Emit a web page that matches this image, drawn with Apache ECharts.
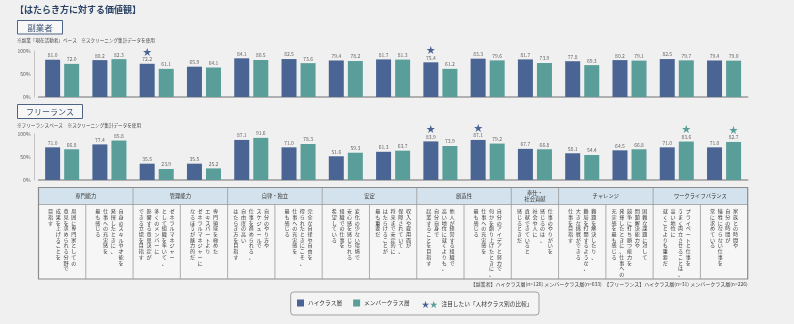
<!DOCTYPE html>
<html><head><meta charset="utf-8">
<script src="https://cdn.jsdelivr.net/npm/echarts@6/dist/echarts.min.js"></script>
<style>html,body{margin:0;padding:0;background:#f0f0f0;}#c{width:794px;height:324px;}</style>
</head><body><div id="c"></div>
<script>
// ---------- data ----------
const categories = ['専門能力A','専門能力B','管理能力A','管理能力B','自律・独立A','自律・独立B','安定A','安定B','創造性A','創造性B','奉仕・社会貢献','チャレンジA','チャレンジB','ワークライフバランスA','ワークライフバランスB'];
const fukuHigh   = [81.0,80.2,72.2,65.9,84.1,82.5,79.4,81.7,75.4,83.3,81.7,77.8,80.2,82.5,79.4];
const fukuMember = [72.0,82.3,61.1,64.1,80.5,73.6,78.2,81.3,61.2,79.6,73.9,69.3,79.1,79.7,79.0];
const freeHigh   = [71.0,77.4,35.5,35.5,87.1,71.0,51.6,61.3,83.9,87.1,67.7,58.1,64.5,71.0,71.0];
const freeMember = [66.8,85.8,23.9,25.2,91.6,78.3,59.3,63.7,73.9,79.2,66.8,54.4,66.8,83.6,82.7];
const fukuHighStar   = [2, 8];
const fukuMemberStar = [];
const freeHighStar   = [8, 9];
const freeMemberStar = [13, 14];
const yTicks = [0, 50, 100];
const groupHeaders = [['専門能力',2],['管理能力',2],['自律・独立',2],['安定',2],['創造性',2],['奉仕・\n社会貢献',1],['チャレンジ',2],['ワークライフバランス',2]];
const cellTexts = [
  ['周囲に専門家としての','意見を求められる分野で','成果を上げることを','目指す'],
  ['自身のスキルや才能を','発揮したときに、','仕事への充実感を','最も感じる'],
  ['ゼネラルマネジャー','として組織を率いて、','多くのメンバーに','影響する意思決定が','できる立場を目指す'],
  ['専門領域を極めた','エキスパートより','ゼネラルマネジャーに','なるほうが魅力的だ'],
  ['自分のやり方や','スケジュールで','仕事を進められる、','自由度の高い','はたらき方を目指す'],
  ['完全な自律や自由を','得られたときにこそ、','仕事への充実感を','最も感じる'],
  ['変化の少ない環境で','安心感を感じられる','組織での仕事を','希望している'],
  ['収入や雇用面が','保障されていて、','将来まで安定的に','はたらけることが','最も重要だ'],
  ['他人が経営する組織で','高い地位に就くよりも、','自分自身で','起業することを目指す'],
  ['自分のアイデアと努力で','何かを創り上げたときに、','仕事への充実感を','最も感じる'],
  ['仕事のやりがいを','感じるのは、','社会や人に','貢献できていると','感じるときだ'],
  ['難題を解決したり、','難局を打開するような、','大きな挑戦ができる','仕事を目指す'],
  ['困難な課題に対して','問題解決能力や','競争に打ち勝つ能力を','発揮したときに、仕事への','充実感を最も感じる'],
  ['プライベートと仕事を','うまく両立させることは、','高い地位に','就くことよりも重要だ'],
  ['家族との時間や','自分の時間が','犠牲にならない仕事を','常に求めている']
];
const seriesNames = ['ハイクラス層','メンバークラス層'];

// ---------- styles ----------
const NAVY = '#4a6593', TEAL = '#5a9e9a', FONT = '"Noto Sans CJK JP", sans-serif';
const gridLeft = 38.5, gridWidth = 709.2;
const cw = gridWidth / categories.length;

function barSeries(name, data, stars, color, idx) {
  return {
    type: 'bar', name: name, data: data, xAxisIndex: idx, yAxisIndex: idx,
    barWidth: 15, barGap: '27%', itemStyle: { color: color },
    label: {
      show: true, position: 'top', distance: 1.5,
      formatter: p => (stars.indexOf(p.dataIndex) >= 0 ? '{s|★}\n' : '') + '{v|' + p.value.toFixed(1) + '}',
      rich: {
        s: { fontSize: 9, color: color, lineHeight: 10, fontFamily: FONT },
        v: { fontSize: 5, color: '#666', lineHeight: 6, fontFamily: FONT }
      }
    }
  };
}
function yAx(idx) {
  return {
    type: 'value', gridIndex: idx, min: 0, max: 100, interval: 50, offset: 4,
    axisLine: { show: true, lineStyle: { color: '#c4c4c4', width: 1 } },
    axisTick: { show: false }, splitLine: { show: false },
    axisLabel: { fontSize: 5, color: '#555', margin: 4, formatter: '{value}%', fontFamily: FONT }
  };
}
function xAx(idx) {
  return {
    type: 'category', gridIndex: idx, data: categories,
    axisLine: { lineStyle: { color: '#9a9a9a', width: 1.5 } },
    axisTick: { show: false }, axisLabel: { show: false }
  };
}

// ---------- graphic (titles, table, legend box) ----------
const g = [];
function txt(text, x, y, size, color, opts) {
  g.push(Object.assign({ type: 'text', silent: true, style: Object.assign({
    text: text, x: x, y: y, fontSize: size, fill: color, fontFamily: FONT,
    align: 'left', verticalAlign: 'middle' }, opts || {}) }));
}
function rect(x, y, w, h, fill, stroke, lw, r) {
  g.push({ type: 'rect', silent: true, shape: { x: x, y: y, width: w, height: h, r: r || 0 },
    style: { fill: fill, stroke: stroke, lineWidth: lw || 0 } });
}
function line(x1, y1, x2, y2, color, lw) {
  g.push({ type: 'line', silent: true, shape: { x1: x1, y1: y1, x2: x2, y2: y2 },
    style: { stroke: color, lineWidth: lw } });
}

txt('【はたらき方に対する価値観】', 15, 9.5, 9, '#2b4465', { fontWeight: 'bold' });
rect(17.5, 20.5, 45, 13.5, '#f7f7f7', '#4d6584', 1);
txt('副業者', 40, 27.5, 8.5, '#3d5473', { align: 'center' });
txt('※副業「現在活動者」ベース　※スクリーニング集計データを使用', 17, 40.5, 4.6, '#444');
rect(17.5, 104.5, 65, 14, '#f7f7f7', '#4d6584', 1);
txt('フリーランス', 50, 111.5, 8, '#3d5473', { align: 'center' });
txt('※フリーランスベース　※スクリーニング集計データを使用', 17, 125, 4.6, '#444');

// table
const tTop = 187.5, hBot = 204.5, tBot = 279;
const tR = gridLeft + gridWidth;
rect(gridLeft, tTop, gridWidth, hBot - tTop, '#d3e2ec');
rect(gridLeft, hBot, gridWidth, tBot - hBot, '#f6f6f6');
line(gridLeft, hBot, tR, hBot, '#9a9a9a', 0.8);
let ci = 0;
groupHeaders.forEach((gh, gi) => {
  const x0 = gridLeft + ci * cw;
  txt(gh[0], x0 + gh[1] * cw / 2, (tTop + hBot) / 2, 5.3, '#333', { align: 'center', lineHeight: 6.5 });
  for (let k = 1; k < gh[1]; k++) line(x0 + k * cw, hBot, x0 + k * cw, tBot, '#9a9a9a', 0.8);
  ci += gh[1];
  if (ci < categories.length) line(gridLeft + ci * cw, tTop, gridLeft + ci * cw, tBot, '#9a9a9a', 0.8);
});
rect(gridLeft, tTop, gridWidth, tBot - tTop, 'none', '#8c8c8c', 1.2);
cellTexts.forEach((lines, i) => {
  const cx = gridLeft + (i + 0.5) * cw, n = lines.length, sp = 7.7;
  lines.forEach((ln, j) => {
    const x = cx + ((n - 1) / 2 - j) * sp;
    txt(ln.split('').join('\n'), x, 208.5, 5.1, '#3a3a3a', { align: 'center', verticalAlign: 'top', lineHeight: 5.7 });
  });
});
txt('【副業者】ハイクラス層(n=126) メンバークラス層(n=633)　【フリーランス】ハイクラス層(n=31) メンバークラス層(n=226)',
    tR, 284.3, 5, '#444', { align: 'right' });

// legend box & star note
rect(290.7, 292, 248.3, 23, '#f4f4f4', '#a0a0a0', 1, 3);
txt('★', 421.5, 303.7, 8, NAVY);
txt('★', 429.8, 303.7, 8, TEAL);
txt('注目したい「人材クラス別の比較」', 441.5, 303.7, 5.7, '#333');

const chart = echarts.init(document.getElementById('c'), null, { renderer: 'canvas' });
chart.setOption({
  backgroundColor: '#f0f0f0',
  animation: false,
  textStyle: { fontFamily: FONT },
  grid: [
    { left: gridLeft, width: gridWidth, top: 51, height: 46 },
    { left: gridLeft, width: gridWidth, top: 134, height: 46 }
  ],
  xAxis: [xAx(0), xAx(1)],
  yAxis: [yAx(0), yAx(1)],
  legend: {
    data: seriesNames, left: 297, top: 299.5, itemWidth: 7, itemHeight: 7, itemGap: 11,
    icon: 'rect', padding: 0,
    textStyle: { fontSize: 5.7, color: '#333', fontFamily: FONT, padding: [0, 0, 0, -1] }
  },
  graphic: g,
  series: [
    barSeries(seriesNames[0], fukuHigh, fukuHighStar, NAVY, 0),
    barSeries(seriesNames[1], fukuMember, fukuMemberStar, TEAL, 0),
    barSeries(seriesNames[0], freeHigh, freeHighStar, NAVY, 1),
    barSeries(seriesNames[1], freeMember, freeMemberStar, TEAL, 1)
  ]
});
</script>
</body></html>
